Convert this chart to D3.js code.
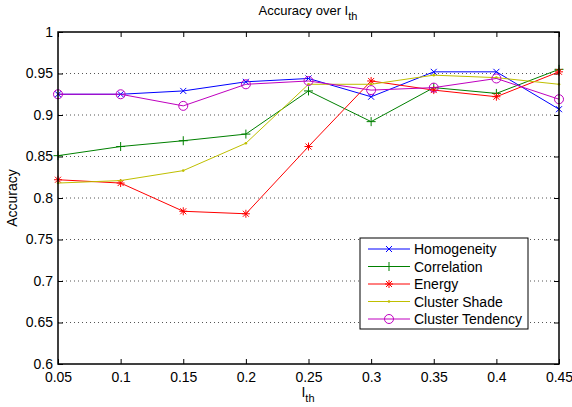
<!DOCTYPE html>
<html><head><meta charset="utf-8">
<script src="https://cdn.jsdelivr.net/npm/d3@7"></script>
<style>
body{margin:0;background:#fff;}
svg{display:block;font-family:"Liberation Sans",Arial,Helvetica,sans-serif;}
</style></head>
<body><svg id="c" width="572" height="407"></svg>
<script>
const thresholds = [0.05,0.10,0.15,0.20,0.25,0.30,0.35,0.40,0.45];
const homogeneity = [0.925,0.925,0.929,0.940,0.944,0.922,0.952,0.952,0.907];
const correlation = [0.851,0.862,0.869,0.877,0.929,0.892,0.933,0.926,0.955];
const energy = [0.822,0.818,0.784,0.781,0.862,0.941,0.930,0.922,0.952];
const clusterShade = [0.818,0.821,0.833,0.866,0.937,0.937,0.948,0.945,0.937];
const clusterTendency = [0.925,0.925,0.911,0.937,0.941,0.930,0.933,0.944,0.919];
const seriesNames = ["Homogeneity","Correlation","Energy","Cluster Shade","Cluster Tendency"];
const xTicks = [0.05,0.1,0.15,0.2,0.25,0.3,0.35,0.4,0.45];
const yTicks = [0.6,0.65,0.7,0.75,0.8,0.85,0.9,0.95,1];

const seriesData = [homogeneity,correlation,energy,clusterShade,clusterTendency];
const colors = ["#0000ff","#008000","#ff0000","#bfbf00","#bf00bf"];
const markers = ["x","plus","star","dot","circle"];

const svg = d3.select("#c");
const L=58,R=559,T=32,B=364;
const x = d3.scaleLinear().domain([0.05,0.45]).range([L,R]);
const y = d3.scaleLinear().domain([0.6,1]).range([B,T]);

// grid
svg.append("g").selectAll("line").data(yTicks.slice(1,-1)).join("line")
  .attr("x1",L).attr("x2",R).attr("y1",d=>y(d)).attr("y2",d=>y(d))
  .attr("stroke","#555").attr("stroke-width",1).attr("stroke-dasharray","1,3");

const fmt = d=>String(+d.toFixed(2));
const ax = svg.append("g").attr("transform",`translate(0,${B})`)
  .call(d3.axisBottom(x).tickValues(xTicks).tickFormat(fmt).tickSizeInner(-5).tickSizeOuter(0).tickPadding(8));
const ay = svg.append("g").attr("transform",`translate(${L},0)`)
  .call(d3.axisLeft(y).tickValues(yTicks).tickFormat(fmt).tickSizeInner(-5).tickSizeOuter(0).tickPadding(5));
const axTop = svg.append("g").attr("transform",`translate(0,${T})`)
  .call(d3.axisTop(x).tickValues(xTicks).tickFormat("").tickSizeInner(-5).tickSizeOuter(0));
const ayR = svg.append("g").attr("transform",`translate(${R},0)`)
  .call(d3.axisRight(y).tickValues(yTicks).tickFormat("").tickSizeInner(-5).tickSizeOuter(0));
[ax,ay,axTop,ayR].forEach(g=>{
  g.select(".domain").remove();
  g.selectAll("line").attr("stroke","#000");
  g.selectAll("text").attr("font-size",14).attr("fill","#000").attr("font-family","Liberation Sans,Arial,sans-serif");
});

function markerPath(g,type,cx,cy,color){
  if(type==="x"){
    const s=3;
    g.append("path").attr("d",`M${cx-s},${cy-s}L${cx+s},${cy+s}M${cx-s},${cy+s}L${cx+s},${cy-s}`).attr("stroke",color).attr("fill","none");
  } else if(type==="plus"){
    const s=4.5;
    g.append("path").attr("d",`M${cx-s},${cy}L${cx+s},${cy}M${cx},${cy-s}L${cx},${cy+s}`).attr("stroke",color).attr("fill","none");
  } else if(type==="star"){
    const s=4,d=3;
    g.append("path").attr("d",`M${cx-s},${cy}L${cx+s},${cy}M${cx},${cy-s}L${cx},${cy+s}M${cx-d},${cy-d}L${cx+d},${cy+d}M${cx-d},${cy+d}L${cx+d},${cy-d}`).attr("stroke",color).attr("fill","none");
  } else if(type==="dot"){
    g.append("circle").attr("cx",cx).attr("cy",cy).attr("r",1.3).attr("fill",color);
  } else if(type==="circle"){
    g.append("circle").attr("cx",cx).attr("cy",cy).attr("r",4.5).attr("fill","none").attr("stroke",color);
  }
}

const line = d3.line().x((d,i)=>x(thresholds[i])).y(d=>y(d));
seriesData.forEach((vals,si)=>{
  const g = svg.append("g");
  g.append("path").datum(vals).attr("d",line).attr("fill","none").attr("stroke",colors[si]).attr("stroke-width",1);
  vals.forEach((v,i)=>markerPath(g,markers[si],x(thresholds[i]),y(v),colors[si]));
});

// box
svg.append("rect").attr("x",L).attr("y",T).attr("width",R-L).attr("height",B-T)
  .attr("fill","none").attr("stroke","#000").attr("stroke-width",1.5);

// legend
const lg = svg.append("g");
lg.append("rect").attr("x",360).attr("y",238).attr("width",168).attr("height",91)
  .attr("fill","#fff").attr("stroke","#000").attr("stroke-width",1);
seriesNames.forEach((n,i)=>{
  const yy = 249 + i*17.5;
  lg.append("line").attr("x1",368).attr("x2",410).attr("y1",yy).attr("y2",yy).attr("stroke",colors[i]);
  markerPath(lg,markers[i],389,yy,colors[i]);
  lg.append("text").attr("x",414).attr("y",yy+5).attr("font-size",14).text(n);
});

// title and labels
const title = svg.append("text").attr("x",308).attr("y",15).attr("text-anchor","middle").attr("font-size",13);
title.append("tspan").text("Accuracy over I");
title.append("tspan").attr("dy",5).attr("font-size",11).text("th");

const xl = svg.append("text").attr("x",308).attr("y",397).attr("text-anchor","middle").attr("font-size",14);
xl.append("tspan").text("I");
xl.append("tspan").attr("dy",5).attr("font-size",11).text("th");

svg.append("text").attr("transform","translate(17,198) rotate(-90)").attr("text-anchor","middle")
  .attr("font-size",14).text("Accuracy");
</script></body></html>
